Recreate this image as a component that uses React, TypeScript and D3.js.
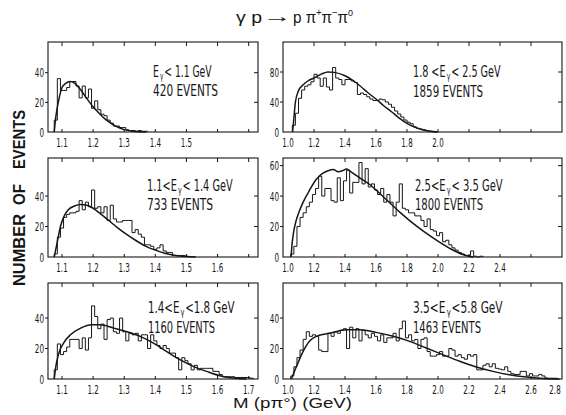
import React from "react";
import * as d3 from "d3";

// ---------------- data ----------------
const panelIds = ["A", "B", "C", "D", "E", "F"];

const rangePrefix = ["", "1.8 <", "1.1<", "2.5<", "1.4<", "3.5<"];
const rangeSuffix = ["< 1.1 GeV", "< 2.5 GeV", "< 1.4 GeV", "< 3.5 GeV", "<1.8 GeV", "<5.8 GeV"];
const eventLabels = ["420 EVENTS", "1859 EVENTS", "733 EVENTS", "1800 EVENTS", "1160 EVENTS", "1463 EVENTS"];

const binStart = [1.075, 1.06, 1.075, 1.05, 1.075, 1.05];
const binWidth = [0.01, 0.02, 0.01, 0.02, 0.01, 0.02];

const countsA = [8, 36, 28, 28, 30, 34, 34, 31, 23, 31, 23, 29, 16, 21, 15, 12, 11, 8, 6, 4, 4, 3, 3, 1.5, 1, 1, 0.5, 1, 0.5, 0.5];
const countsB = [9, 25, 45, 56, 61, 63, 67, 77, 72, 61, 72, 60, 56, 86, 72, 70, 63, 70, 70, 68, 66, 50,
  52, 50, 47, 44, 42, 42, 44, 43, 40, 37, 33, 28, 24, 20, 16, 13, 11, 7, 5, 4, 3, 2, 1, 0.5];
const countsC = [2, 13, 19, 26, 28, 29, 29, 30, 37, 31, 36, 33, 44, 32, 33, 29, 33, 24, 34, 25, 23, 23, 24, 24, 24,
  16, 18, 15, 13, 8, 8, 7, 5, 6, 8, 4, 3, 3, 1, 1, 1, 1, 0.5];
const countsD = [2, 7, 20, 26, 29, 33, 36, 41, 45, 53, 40, 45, 45, 37, 36, 52, 37, 50, 57, 42, 49, 49, 62, 48, 58,
  46, 48, 44, 41, 45, 36, 41, 36, 27, 36, 48, 32, 31, 29, 29, 27, 27, 24, 20, 25, 18, 17, 14, 16, 10, 11, 8, 6,
  4.5, 3, 2, 1, 1, 4, 0.5, 0, 0.5];
const countsE = [6, 23, 16, 18, 21, 26, 26, 26, 20, 27, 19, 27, 48, 41, 33, 36, 26, 39, 40, 31, 30, 40, 31, 25, 30,
  29, 30, 25, 29, 29, 20, 29, 25, 22, 20, 22, 20, 17, 17, 14, 6, 14, 12, 10, 6, 9, 6, 7, 7, 7, 7, 5, 5, 3, 1.5,
  1.5, 1.5, 1.5, 1, 1, 1, 1, 1, 0.5];
const countsF = [2, 8, 14, 19, 26, 31, 28, 29, 28, 19, 18, 18, 30, 28, 31, 30, 32, 33, 20, 34, 27, 33, 25, 32, 29,
  27, 30, 28, 25, 29, 24, 27, 27, 30, 25, 33, 38, 27, 29, 25, 26, 20, 26, 27, 18, 15, 15, 16, 18, 15, 15, 20, 19,
  15, 16, 14, 13, 16, 15, 16, 6, 6, 9, 10, 8, 10, 7, 6.5, 6, 8, 5, 3.5, 3, 3, 5, 5, 2, 3.5, 2, 2, 3, 2, 0.7, 0.5,
  0.5, 0.5];

const curveA: [number, number][] = [[1.075, 0], [1.08, 10], [1.09, 22], [1.1, 30], [1.11, 32.5], [1.127, 34],
  [1.14, 33], [1.16, 28.5], [1.18, 22.5], [1.2, 17], [1.22, 12.5], [1.24, 8.5], [1.26, 5.5], [1.28, 3.2],
  [1.3, 1.6], [1.33, 0.5], [1.37, 0]];
const curveB: [number, number][] = [[1.062, 0], [1.07, 18], [1.08, 40], [1.1, 55], [1.13, 63], [1.16, 68],
  [1.2, 72], [1.25, 77.5], [1.29, 80], [1.33, 79.5], [1.4, 75], [1.45, 69], [1.5, 61], [1.55, 52], [1.6, 44],
  [1.65, 35], [1.7, 27], [1.75, 18.5], [1.8, 11.5], [1.85, 6.5], [1.9, 3], [1.95, 1], [2.0, 0]];
const curveC: [number, number][] = [[1.075, 0], [1.085, 10], [1.095, 20], [1.105, 26], [1.12, 31], [1.14, 33.5],
  [1.16, 34.5], [1.18, 34], [1.2, 32], [1.22, 29], [1.25, 24], [1.28, 19], [1.31, 14.5], [1.34, 10.5],
  [1.37, 7], [1.4, 4.5], [1.43, 2.5], [1.46, 1.2], [1.5, 0.3], [1.53, 0]];
const curveD: [number, number][] = [[1.052, 0], [1.058, 8], [1.068, 16], [1.085, 24], [1.105, 30], [1.13, 36],
  [1.172, 44], [1.215, 51], [1.258, 55], [1.3, 57], [1.325, 57.4], [1.355, 56], [1.385, 56.7], [1.41, 57.8],
  [1.43, 56.5], [1.495, 52], [1.56, 47.6], [1.645, 39.7], [1.753, 29.5], [1.86, 20.4], [1.968, 12.5],
  [2.075, 5.7], [2.16, 1.6], [2.205, 0.4], [2.23, 0]];
const curveE: [number, number][] = [[1.075, 0], [1.08, 8], [1.09, 17], [1.105, 23.6], [1.127, 29], [1.16, 33.4],
  [1.197, 35.6], [1.223, 35.6], [1.266, 33.4], [1.309, 31], [1.351, 28], [1.394, 23.6], [1.437, 18],
  [1.479, 12.7], [1.522, 8.3], [1.565, 5], [1.607, 2.2], [1.65, 0.7], [1.693, 0]];
const curveF: [number, number][] = [[1.054, 0], [1.086, 8], [1.129, 18], [1.172, 25], [1.215, 28], [1.3, 30],
  [1.41, 32.3], [1.495, 32.3], [1.6, 30.6], [1.71, 28], [1.817, 24.7], [1.925, 20.3], [2.03, 16], [2.14, 11.6],
  [2.247, 7.9], [2.355, 5], [2.46, 2.8], [2.57, 1.3], [2.68, 0.4], [2.785, 0]];

const yTicksA = [0, 20, 40];
const yTicksB = [0, 40, 80];
const yTicksC = [0, 20, 40];
const yTicksD = [0, 20, 40, 60];
const yTicksE = [0, 20, 40];
const yTicksF = [0, 20, 40];

const xLabelsA = [1.1, 1.2, 1.3, 1.4, 1.5];
const xLabelsB = [1.0, 1.2, 1.4, 1.6, 1.8, 2.0];
const xLabelsC = [1.1, 1.2, 1.3, 1.4, 1.5, 1.6];
const xLabelsD = [1.0, 1.2, 1.4, 1.6, 1.8, 2.0, 2.2, 2.4];
const xLabelsE = [1.1, 1.2, 1.3, 1.4, 1.5, 1.6, 1.7];
const xLabelsF = [1.0, 1.2, 1.4, 1.6, 1.8, 2.0, 2.2, 2.4, 2.6, 2.8];

const xTicksLeft = [1.1, 1.2, 1.3, 1.4, 1.5, 1.6, 1.7];
const xTicksRight = [1.2, 1.4, 1.6, 1.8, 2.0, 2.2, 2.4, 2.6];

const yMax = [60.7, 120, 65, 65, 63, 63];

const yTitleWords = ["NUMBER", "OF", "EVENTS"];

const allCounts = [countsA, countsB, countsC, countsD, countsE, countsF];
const allCurves = [curveA, curveB, curveC, curveD, curveE, curveF];
const allYTicks = [yTicksA, yTicksB, yTicksC, yTicksD, yTicksE, yTicksF];
const allXLabels = [xLabelsA, xLabelsB, xLabelsC, xLabelsD, xLabelsE, xLabelsF];

// ---------------- layout ----------------
const COLS = [
  { x0: 48, x1: 258, domain: [1.055, 1.73] as [number, number], ticks: xTicksLeft },
  { x0: 283, x1: 562, domain: [1.0, 2.8] as [number, number], ticks: xTicksRight },
];
const ROWS = [
  { y0: 42, y1: 132 },
  { y0: 158, y1: 257 },
  { y0: 283, y1: 379 },
];
// text block placement: [x, baseline1, baseline2, width1, width2]
const TEXT_POS = [
  [153, 77, 96, 59, 65],
  [413, 77, 97, 88, 70],
  [147, 191, 210, 86, 66],
  [415, 191, 210, 88, 68],
  [148, 313, 333, 87, 67],
  [413, 313, 333, 90, 68],
];
// y-title word spans along y (bottom, top)
const YTITLE_POS = [
  [286, 214],
  [205, 184],
  [169, 110],
];

const CF = "'DejaVu Sans Condensed','Liberation Sans Narrow','DejaVu Sans',sans-serif";
const SF = "'Liberation Sans','DejaVu Sans',sans-serif";
const INK = "#161616";
const fmt = d3.format(".1f");

function labelWidth(s: string) {
  let w = 0;
  for (const ch of s) w += ch === "." ? 2.2 : 4.6;
  return w;
}

const REL: Record<string, number> = { ".": 0.45, "<": 1.15, " ": 0.45, G: 1.15, e: 0.95, V: 1.05, E: 1.0, "γ": 0.8 };
function relWidth(s: string) {
  let w = 0;
  for (const ch of s) w += REL[ch] ?? 1.0;
  return w;
}

function RangeLine({ x, y, width, prefix, suffix }: { x: number; y: number; width: number; prefix: string; suffix: string }) {
  const parts = [
    { t: prefix + "E", sub: false },
    { t: "γ", sub: true },
    { t: suffix, sub: false },
  ];
  const rel = parts.map((p) => relWidth(p.t));
  const k = width / rel.reduce((a, b) => a + b, 0);
  let cx = x;
  return (
    <g>
      {parts.map((p, j) => {
        const w = rel[j] * k;
        const el = (
          <text
            key={j}
            x={p.sub ? cx + 0.8 : cx}
            y={p.sub ? y + 3 : y}
            fontFamily={CF}
            fontSize={p.sub ? 10 : 16}
            fill={INK}
            textLength={p.sub ? w - 1.6 : w - 0.4}
            lengthAdjust="spacingAndGlyphs"
          >
            {p.t}
          </text>
        );
        cx += w;
        return el;
      })}
    </g>
  );
}

function Panel({ i }: { i: number }) {
  const col = COLS[i % 2];
  const row = ROWS[Math.floor(i / 2)];
  const x = d3.scaleLinear().domain(col.domain).range([col.x0, col.x1]);
  const y = d3.scaleLinear().domain([0, yMax[i]]).range([row.y1, row.y0]);

  const counts = allCounts[i];
  const s = binStart[i];
  const w = binWidth[i];
  const pts: { m: number; v: number }[] = [{ m: s, v: 0 }];
  counts.forEach((c, k) => pts.push({ m: s + k * w, v: c }));
  pts.push({ m: s + counts.length * w, v: 0 });
  const hist = d3
    .line<{ m: number; v: number }>()
    .x((d) => x(d.m))
    .y((d) => y(d.v))
    .curve(d3.curveStepAfter)(pts) as string;

  const curve = d3
    .line<[number, number]>()
    .x((d) => x(d[0]))
    .y((d) => y(Math.max(0, d[1])))
    .curve(d3.curveMonotoneX)(allCurves[i]) as string;

  const [tx, b1, b2, w1, w2] = TEXT_POS[i];

  return (
    <g>
      <rect x={col.x0} y={row.y0} width={col.x1 - col.x0} height={row.y1 - row.y0} fill="none" stroke={INK} strokeWidth={1.1} />
      {col.ticks.map((t) => (
        <g key={"xt" + t}>
          <line x1={x(t)} x2={x(t)} y1={row.y0} y2={row.y0 + 4} stroke={INK} strokeWidth={1} />
          <line x1={x(t)} x2={x(t)} y1={row.y1} y2={row.y1 - 3} stroke={INK} strokeWidth={1} />
        </g>
      ))}
      {allYTicks[i].map((t) => (
        <g key={"yt" + t}>
          {t > 0 && (
            <>
              <line x1={col.x0 - 3} x2={col.x0} y1={y(t)} y2={y(t)} stroke={INK} strokeWidth={1} />
              <line x1={col.x1 - 4} x2={col.x1} y1={y(t)} y2={y(t)} stroke={INK} strokeWidth={1} />
            </>
          )}
          <text
            x={col.x0 - 4 - labelWidth(String(t))}
            y={y(t) + 4.5}
            fontFamily={CF}
            fontSize={12.5}
            fill={INK}
            textLength={labelWidth(String(t))}
            lengthAdjust="spacingAndGlyphs"
          >
            {t}
          </text>
        </g>
      ))}
      {allXLabels[i].map((t) => {
        const lbl = fmt(t);
        const lw = labelWidth(lbl);
        const cx = Math.min(Math.max(x(t), col.x0 + 5), col.x1 - 7);
        return (
          <text
            key={"xl" + t}
            x={cx - lw / 2}
            y={row.y1 + 14.5}
            fontFamily={CF}
            fontSize={12.5}
            fill={INK}
            textLength={lw}
            lengthAdjust="spacingAndGlyphs"
          >
            {lbl}
          </text>
        );
      })}
      <path d={hist} fill="none" stroke={INK} strokeWidth={1} strokeLinejoin="miter" />
      <path d={curve} fill="none" stroke={INK} strokeWidth={1.5} />
      <RangeLine x={tx} y={b1} width={w1} prefix={rangePrefix[i]} suffix={rangeSuffix[i]} />
      <text x={tx} y={b2} fontFamily={CF} fontSize={16} fill={INK} textLength={w2} lengthAdjust="spacingAndGlyphs">
        {eventLabels[i]}
      </text>
    </g>
  );
}

export default function App() {
  return (
    <svg
      width={566}
      height={415}
      viewBox="0 0 566 415"
      style={{ position: "absolute", left: 0, top: 0, background: "#fff" }}
    >
      <rect x={0} y={0} width={566} height={415} fill="#fff" />
      {/* title */}
      <text x={236} y={23} fontFamily={SF} fontSize={17} fill={INK} textLength={26} lengthAdjust="spacingAndGlyphs">
        γ p
      </text>
      <text x={263} y={22} fontFamily={SF} fontSize={17} fontWeight="bold" fill={INK} textLength={29} lengthAdjust="spacingAndGlyphs">
        →
      </text>
      <text x={293} y={23} fontFamily={SF} fontSize={17} fill={INK} textLength={60} lengthAdjust="spacingAndGlyphs">
        p π<tspan fontSize={10} dy={-7}>+</tspan>
        <tspan dy={7}>π</tspan>
        <tspan fontSize={10} dy={-7}>−</tspan>
        <tspan dy={7}>π</tspan>
        <tspan fontSize={10} dy={-7}>o</tspan>
      </text>

      {panelIds.map((id, i) => (
        <Panel key={id} i={i} />
      ))}

      {/* axis titles */}
      {yTitleWords.map((wd, j) => {
        const [yb, yt] = YTITLE_POS[j];
        return (
          <text
            key={wd}
            transform={`translate(25,${yb}) rotate(-90)`}
            fontFamily={SF}
            fontWeight="bold"
            fontSize={16.5}
            fill={INK}
            textLength={yb - yt}
            lengthAdjust="spacingAndGlyphs"
          >
            {wd}
          </text>
        );
      })}
      <text x={233} y={408} fontFamily={SF} fontSize={15} fill={INK} textLength={119} lengthAdjust="spacingAndGlyphs">
        M (pπ°) (GeV)
      </text>
    </svg>
  );
}
